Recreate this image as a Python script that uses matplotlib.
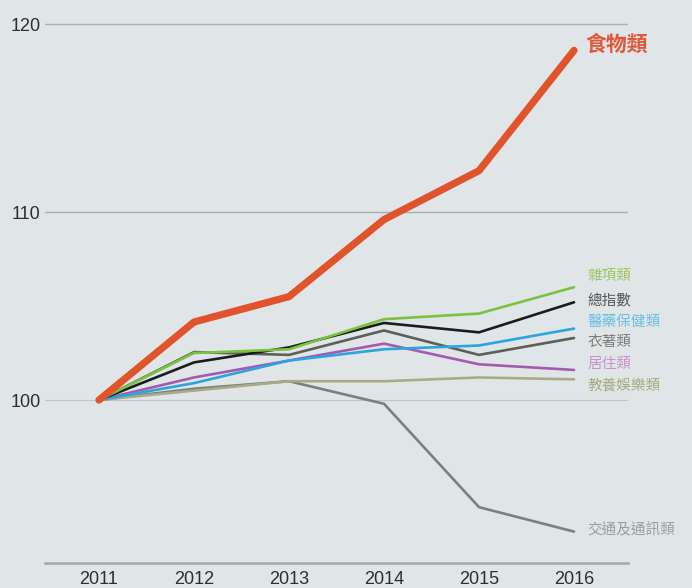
import matplotlib
matplotlib.use("Agg")
import matplotlib.pyplot as plt

plt.rcParams["font.family"] = ["Noto Sans CJK TC", "DejaVu Sans"]

years = [2011, 2012, 2013, 2014, 2015, 2016]

# index values per category (2011 = 100)
food = [100.0, 104.15, 105.5, 109.6, 112.2, 118.6]
misc = [100.0, 102.5, 102.7, 104.3, 104.6, 106.0]
total = [100.0, 102.0, 102.8, 104.1, 103.6, 105.2]
medical = [100.0, 100.9, 102.1, 102.7, 102.9, 103.8]
clothing = [100.0, 102.55, 102.4, 103.7, 102.4, 103.3]
housing = [100.0, 101.2, 102.1, 103.0, 101.9, 101.6]
education = [100.0, 100.5, 101.0, 101.0, 101.2, 101.1]
transport = [100.0, 100.6, 101.0, 99.8, 94.3, 93.0]

names = ["雜項類", "總指數", "醫藥保健類", "衣著類", "居住類", "教養娛樂類", "交通及通訊類"]
label_y = [106.6, 105.3, 104.15, 103.1, 101.9, 100.8, 93.1]

bg = "#e0e6e7"
fig = plt.figure(figsize=(6.92, 5.88), dpi=100, facecolor=bg)
ax = fig.add_axes([45 / 692, 25 / 588, 583 / 692, 563 / 588], facecolor=bg)

ax.set_xlim(2010.432, 2016.568)
ax.set_ylim(91.33, 121.28)

for y, c, lw in [(120, "#aab0b0", 1.0), (110, "#aab0b0", 1.0), (100, "#c0c6c6", 0.8)]:
    ax.axhline(y, color=c, lw=lw, zorder=1)

series = [
    (transport, "#7b807e", "#9a9f9d"),
    (education, "#a9ab88", "#a6aa82"),
    (housing, "#a55ab0", "#c792c9"),
    (clothing, "#5c6058", "#7a7d78"),
    (medical, "#2ba5de", "#67bde6"),
    (total, "#1c1c1c", "#555757"),
    (misc, "#7cc240", "#9fc35f"),
]
lines = [misc, total, medical, clothing, housing, education, transport]
for vals, lc, tc in series:
    ax.plot(years, vals, color=lc, lw=1.9, solid_capstyle="round",
            solid_joinstyle="round", zorder=3)
    i = lines.index(vals)
    ax.text(2016.14, label_y[i], names[i], color=tc, fontsize=10.5,
            va="center", ha="left", zorder=4, clip_on=False)

ax.plot(years, food, color="#e1532a", lw=5.2, solid_capstyle="round",
        solid_joinstyle="round", zorder=5)
ax.text(2016.12, 118.9, "食物類", color="#e0573a", fontsize=15,
        fontweight="bold", va="center", ha="left", zorder=6)

for side in ["top", "right", "left"]:
    ax.spines[side].set_visible(False)
ax.spines["bottom"].set_color("#9fa8ab")
ax.spines["bottom"].set_linewidth(1.8)

ax.set_xticks(years)
ax.set_xticklabels([str(y) for y in years], fontfamily="Liberation Sans",
                   fontsize=13, color="#2e2e2e")
ax.set_yticks([100, 110, 120])
ax.set_yticklabels(["100", "110", "120"], fontfamily="Liberation Sans",
                   fontsize=13, color="#2e2e2e")
ax.tick_params(axis="both", length=0)
ax.tick_params(axis="x", pad=6)
ax.tick_params(axis="y", pad=3)

fig.savefig("out.png", dpi=100, facecolor=bg)
